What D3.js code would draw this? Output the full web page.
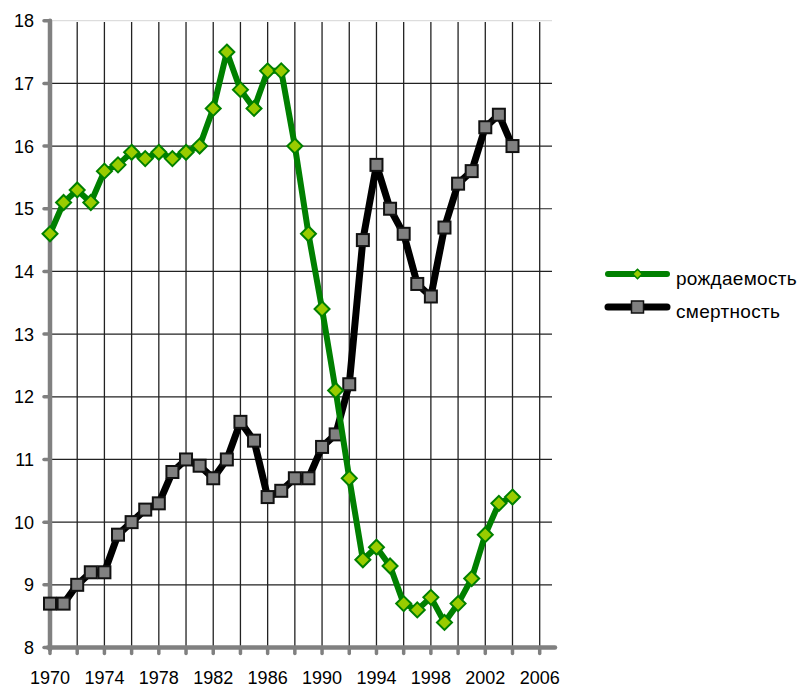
<!DOCTYPE html>
<head>
  <meta charset="utf-8">
  <style>
    body { margin: 0; background: #fff; }
    text { font-family: 'Liberation Sans', Arial, sans-serif; fill: #000; }
  </style>
</head>
<body>
  <script src="https://cdn.jsdelivr.net/npm/d3@7"></script>
  <script>
    const width = 805;
    const height = 689;

    // data
    const years = d3.range(1970, 2005);
    const births = [14.6, 15.1, 15.3, 15.1, 15.6, 15.7, 15.9, 15.8, 15.9, 15.8,
                    15.9, 16.0, 16.6, 17.5, 16.9, 16.6, 17.2, 17.2, 16.0, 14.6,
                    13.4, 12.1, 10.7, 9.4, 9.6, 9.3, 8.7, 8.6, 8.8, 8.4,
                    8.7, 9.1, 9.8, 10.3, 10.4];
    const deaths = [8.7, 8.7, 9.0, 9.2, 9.2, 9.8, 10.0, 10.2, 10.3, 10.8,
                    11.0, 10.9, 10.7, 11.0, 11.6, 11.3, 10.4, 10.5, 10.7, 10.7,
                    11.2, 11.4, 12.2, 14.5, 15.7, 15.0, 14.6, 13.8, 13.6, 14.7,
                    15.4, 15.6, 16.3, 16.5, 16.0];
    const seriesNames = ["рождаемость", "смертность"];
    const xTicks = d3.range(1970, 2007, 2);
    const xLabels = d3.range(1970, 2007, 4);
    const yTicks = d3.range(8, 19, 1);

    const svg = d3.select("body").append("svg")
      .attr("width", width)
      .attr("height", height);

    const x = d3.scaleLinear().domain([1970, 2006]).range([50, 539.7]);
    const y = d3.scaleLinear().domain([8, 18]).range([647.5, 20.7]);
    const plotRight = 552;

    // grid
    const grid = svg.append("g");
    grid.selectAll(".hg").data(yTicks.slice(1)).enter().append("line")
      .attr("x1", x(1970)).attr("x2", plotRight)
      .attr("y1", d => y(d)).attr("y2", d => y(d))
      .attr("stroke", d => d === 18 ? "#ddd" : "#222").attr("stroke-width", 1.2);
    grid.selectAll(".vg").data(xTicks.slice(1)).enter().append("line")
      .attr("x1", d => x(d)).attr("x2", d => x(d))
      .attr("y1", 22).attr("y2", y(8))
      .attr("stroke", "#222").attr("stroke-width", 1.3);

    // axes
    const axisColor = "#808080";
    const ax = svg.append("g")
      .attr("stroke", axisColor).attr("stroke-linecap", "round");
    ax.append("line")
      .attr("x1", x(1970)).attr("x2", x(1970))
      .attr("y1", y(18)).attr("y2", y(8) + 2)
      .attr("stroke-width", 4.5);
    ax.append("line")
      .attr("x1", x(1970) - 2).attr("x2", plotRight + 3)
      .attr("y1", y(8)).attr("y2", y(8))
      .attr("stroke-width", 4.5);
    ax.selectAll(".yt").data(yTicks).enter().append("line")
      .attr("x1", x(1970) - 6).attr("x2", x(1970))
      .attr("y1", d => y(d)).attr("y2", d => y(d))
      .attr("stroke-width", 3.5);
    ax.selectAll(".xt").data(xTicks).enter().append("line")
      .attr("x1", d => x(d)).attr("x2", d => x(d))
      .attr("y1", y(8)).attr("y2", y(8) + 6)
      .attr("stroke-width", 3.5);

    svg.selectAll(".yl").data(yTicks).enter().append("text")
      .attr("x", 34).attr("y", d => y(d) + 6.5)
      .attr("text-anchor", "end")
      .style("font-size", "18px")
      .text(d => d);
    svg.selectAll(".xl").data(xLabels).enter().append("text")
      .attr("x", d => x(d)).attr("y", 683.5)
      .attr("text-anchor", "middle")
      .style("font-size", "18px")
      .text(d => d);

    const line = d3.line().x(d => x(d[0])).y(d => y(d[1]));
    const birthPts = years.map((yr, i) => [yr, births[i]]);
    const deathPts = years.map((yr, i) => [yr, deaths[i]]);

    // deaths drawn first, births on top
    svg.append("path").datum(deathPts)
      .attr("d", line).attr("fill", "none")
      .attr("stroke", "#000").attr("stroke-width", 7)
      .attr("stroke-linejoin", "round");
    svg.selectAll(".sq").data(deathPts).enter().append("rect")
      .attr("x", d => x(d[0]) - 6).attr("y", d => y(d[1]) - 6)
      .attr("width", 12).attr("height", 12)
      .attr("fill", "#808080").attr("stroke", "#111").attr("stroke-width", 2);

    const diamond = s => `M0,${-s}L${s},0L0,${s}L${-s},0Z`;
    svg.append("path").datum(birthPts)
      .attr("d", line).attr("fill", "none")
      .attr("stroke", "#008000").attr("stroke-width", 6)
      .attr("stroke-linejoin", "round");
    svg.selectAll(".dm").data(birthPts).enter().append("path")
      .attr("d", diamond(7.5))
      .attr("transform", d => `translate(${x(d[0])},${y(d[1])})`)
      .attr("fill", "#99cc00").attr("stroke", "#008000").attr("stroke-width", 2);

    // legend
    const lg = svg.append("g");
    const legendY = [274, 307];
    lg.append("line").attr("x1", 608).attr("x2", 667)
      .attr("y1", legendY[0]).attr("y2", legendY[0])
      .attr("stroke", "#008000").attr("stroke-width", 6).attr("stroke-linecap", "round");
    lg.append("path").attr("d", diamond(4.8))
      .attr("transform", `translate(637.5,${legendY[0]})`)
      .attr("fill", "#99cc00").attr("stroke", "#008000").attr("stroke-width", 1.5);
    lg.append("line").attr("x1", 608).attr("x2", 667)
      .attr("y1", legendY[1]).attr("y2", legendY[1])
      .attr("stroke", "#000").attr("stroke-width", 7).attr("stroke-linecap", "round");
    lg.append("rect").attr("x", 631.5).attr("y", legendY[1] - 6)
      .attr("width", 12).attr("height", 12)
      .attr("fill", "#808080").attr("stroke", "#111").attr("stroke-width", 1.5);
    lg.selectAll(".lt").data(seriesNames).enter().append("text")
      .attr("x", 676).attr("y", (d, i) => legendY[i] + 11)
      .style("font-size", "19px")
      .style("letter-spacing", "0.3px")
      .text(d => d);
  </script>
</body>
